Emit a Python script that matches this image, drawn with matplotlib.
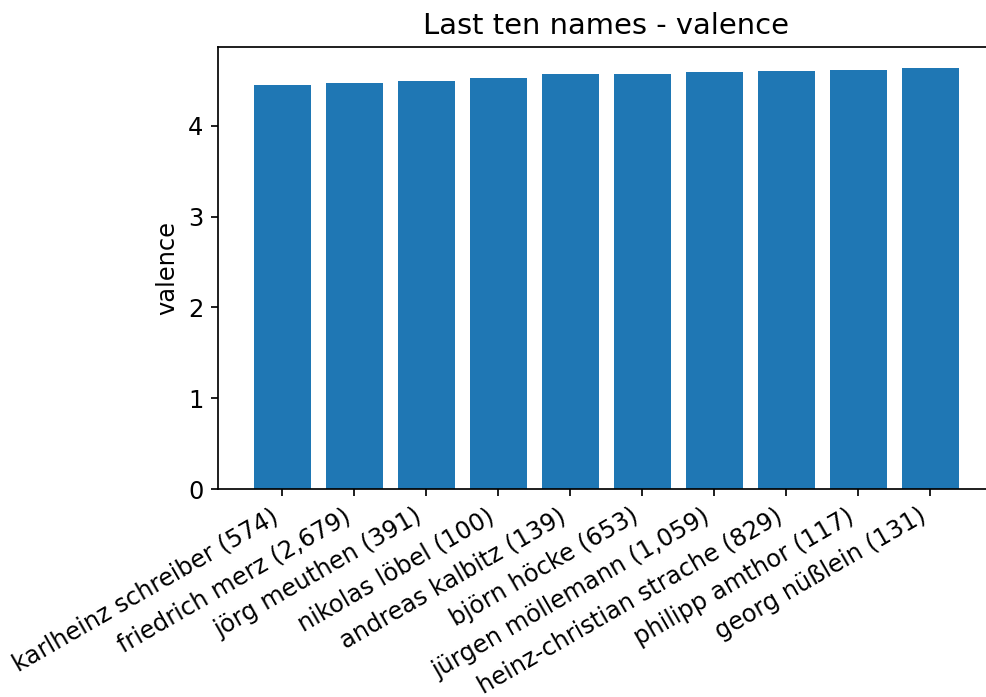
import matplotlib
matplotlib.use("Agg")
import matplotlib.pyplot as plt

names = [
	"karlheinz schreiber (574)",
	"friedrich merz (2,679)",
	"jörg meuthen (391)",
	"nikolas löbel (100)",
	"andreas kalbitz (139)",
	"björn höcke (653)",
	"jürgen möllemann (1,059)",
	"heinz-christian strache (829)",
	"philipp amthor (117)",
	"georg nüßlein (131)",
]
valence = [4.448, 4.466, 4.488, 4.521, 4.573, 4.573, 4.591, 4.599, 4.610, 4.635]

plt.rcParams["font.size"] = 11.3

dpi = 154
fig = plt.figure(figsize=(986 / dpi, 697 / dpi), dpi=dpi)
# axes run slightly past the right edge of the canvas
ax = fig.add_axes([0.2215, 0.2984, 0.787, 0.6342])
ax.bar(range(len(names)), valence, color="#1f77b4")
ax.set_xticks(range(len(names)))
ax.set_xticklabels(names, rotation=30, ha="right")
ax.set_ylabel("valence")
ax.set_title("Last ten names - valence")
fig.savefig("out.png", dpi=dpi)
